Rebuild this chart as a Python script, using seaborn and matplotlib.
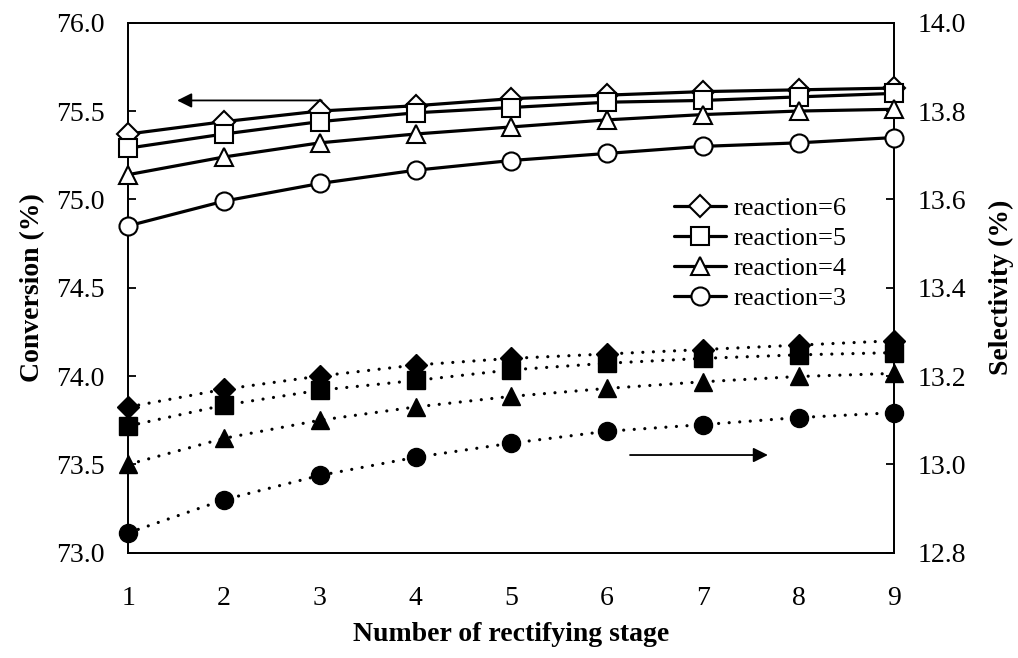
import matplotlib
matplotlib.use("Agg")
import matplotlib.pyplot as plt
import seaborn as sns
import pandas as pd

# Stage numbers and reaction-stage counts
stages = [1, 2, 3, 4, 5, 6, 7, 8, 9]
reactions = [6, 5, 4, 3]

# Conversion (%) per reaction-stage count
conv_r6 = [75.37, 75.44, 75.50, 75.53, 75.57, 75.59, 75.61, 75.62, 75.63]
conv_r5 = [75.29, 75.37, 75.44, 75.49, 75.52, 75.55, 75.56, 75.58, 75.60]
conv_r4 = [75.14, 75.24, 75.32, 75.37, 75.41, 75.45, 75.48, 75.50, 75.51]
conv_r3 = [74.85, 74.99, 75.09, 75.165, 75.22, 75.26, 75.30, 75.32, 75.35]

# Selectivity (%) per reaction-stage count
sel_r6 = [13.13, 13.17, 13.20, 13.225, 13.24, 13.25, 13.26, 13.27, 13.28]
sel_r5 = [13.087, 13.134, 13.168, 13.19, 13.214, 13.229, 13.24, 13.248, 13.253]
sel_r4 = [13.00, 13.059, 13.10, 13.13, 13.154, 13.172, 13.187, 13.199, 13.206]
sel_r3 = [12.845, 12.92, 12.975, 13.016, 13.048, 13.075, 13.09, 13.106, 13.117]

conv_ticks = [73.0, 73.5, 74.0, 74.5, 75.0, 75.5, 76.0]
sel_ticks = [12.8, 13.0, 13.2, 13.4, 13.6, 13.8, 14.0]

conversion = [conv_r6, conv_r5, conv_r4, conv_r3]
selectivity = [sel_r6, sel_r5, sel_r4, sel_r3]
markers = ["D", "s", "^", "o"]
msizes = [11, 12.5, 13, 13]

sns.set_style("ticks")
plt.rcParams["font.family"] = ["Liberation Serif", "DejaVu Serif"]
plt.rcParams["axes.linewidth"] = 1.3
for key in ("text.color", "axes.labelcolor", "xtick.color", "ytick.color",
            "axes.edgecolor"):
    plt.rcParams[key] = "black"

fig = plt.figure(figsize=(10.18, 6.58), dpi=100)
ax = fig.add_axes([0.126, 0.160, 0.7525, 0.8055])
ax2 = ax.twinx()

dotted = (0, (0.01, 3.3))

for r, vals, m, ms in zip(reactions, selectivity, markers, msizes):
    df = pd.DataFrame({"stage": stages, "value": vals})
    sns.lineplot(data=df, x="stage", y="value", ax=ax2, color="black",
                 linewidth=2.3, linestyle=dotted, dash_capstyle="round",
                 marker=m, markersize=ms, markerfacecolor="black",
                 markeredgecolor="black", markeredgewidth=1.0,
                 clip_on=False, zorder=3)

for r, vals, m, ms in zip(reactions, conversion, markers, msizes):
    df = pd.DataFrame({"stage": stages, "value": vals})
    sns.lineplot(data=df, x="stage", y="value", ax=ax, color="black",
                 linewidth=2.3, marker=m, markersize=ms,
                 markerfacecolor="white", markeredgecolor="black",
                 markeredgewidth=1.5, clip_on=False, zorder=3,
                 label=f"reaction={r}")

ax.set_xlim(1, 9)
ax.set_ylim(73.0, 76.0)
ax2.set_ylim(12.8, 14.0)
ax.set_xticks(stages)
ax.set_yticks(conv_ticks)
ax.set_yticklabels([f"{v:.1f}" for v in conv_ticks])
ax2.set_yticks(sel_ticks)
ax2.set_yticklabels([f"{v:.1f}" for v in sel_ticks])

ax.tick_params(axis="y", direction="in", length=6, width=1.3, labelsize=20, pad=17,
               colors="black")
ax2.tick_params(axis="y", direction="in", length=6, width=1.3, labelsize=20, pad=17,
                colors="black")
ax.tick_params(axis="x", length=0, labelsize=20, pad=24, colors="black")

ax.set_xlabel("Number of rectifying stage", fontsize=20, fontweight="bold",
              labelpad=8, color="black")
ax.set_ylabel("Conversion (%)", fontsize=20, fontweight="bold", labelpad=8,
              color="black")
ax2.set_ylabel("Selectivity (%)", fontsize=20, fontweight="bold", labelpad=16,
               color="black")

for a in (ax, ax2):
    for s in a.spines.values():
        s.set_visible(True)
        s.set_linewidth(1.3)
        s.set_color("black")

# Direction arrows pointing to each curve group's axis
ax.annotate("", xy=(1.51, 75.56), xytext=(3.02, 75.56),
            arrowprops=dict(arrowstyle="-|>", color="black", lw=1.3,
                            mutation_scale=22, shrinkA=0, shrinkB=0))
ax.annotate("", xy=(7.68, 73.553), xytext=(6.24, 73.553),
            arrowprops=dict(arrowstyle="-|>", color="black", lw=1.3,
                            mutation_scale=22, shrinkA=0, shrinkB=0))

ax.set_zorder(ax2.get_zorder() + 1)
ax.patch.set_visible(False)

leg = ax.legend(loc="upper left", bbox_to_anchor=(0.712, 0.672), frameon=False,
                fontsize=19, handlelength=2.0, handletextpad=0.25,
                labelspacing=0.25, borderpad=0, borderaxespad=0)
for t in leg.get_texts():
    t.set_color("black")

fig.savefig("out.png", dpi=100)
